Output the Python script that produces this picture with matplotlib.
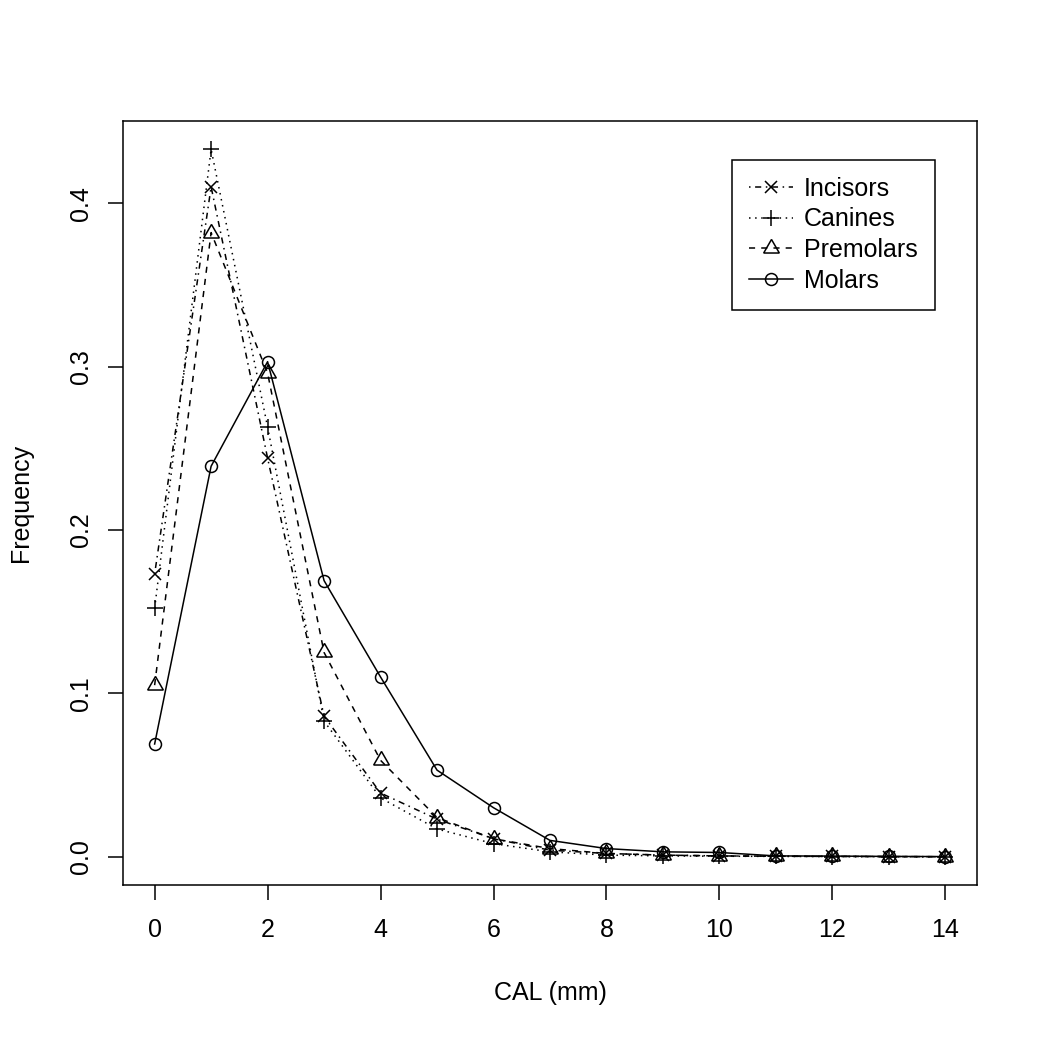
import matplotlib
matplotlib.use("Agg")
import matplotlib.pyplot as plt
import numpy as np

# CAL frequency by tooth type
cal_mm = list(range(15))
incisors = [0.173, 0.410, 0.244, 0.086, 0.039, 0.023, 0.011, 0.004, 0.002, 0.001, 0.0005, 0.0003, 0.0002, 0.0001, 0.0]
canines = [0.152, 0.433, 0.263, 0.083, 0.036, 0.017, 0.008, 0.003, 0.001, 0.0005, 0.0003, 0.0002, 0.0001, 0.0, 0.0]
premolars = [0.105, 0.382, 0.296, 0.125, 0.059, 0.024, 0.011, 0.005, 0.002, 0.001, 0.0005, 0.0003, 0.0002, 0.0001, 0.0]
molars = [0.069, 0.239, 0.303, 0.169, 0.110, 0.053, 0.030, 0.010, 0.005, 0.003, 0.0026, 0.0005, 0.0004, 0.0002, 0.0001]

x_ticks = [0, 2, 4, 6, 8, 10, 12, 14]
y_ticks = [0.0, 0.1, 0.2, 0.3, 0.4]
y_tick_labels = ["0.0", "0.1", "0.2", "0.3", "0.4"]

plt.rcParams['font.family'] = ['Liberation Sans', 'DejaVu Sans']

fig = plt.figure(figsize=(10.42, 10.38), dpi=100)
ax = fig.add_axes([123/1042, 1 - 885/1038, (977 - 123)/1042, (885 - 121)/1038])

lw = 1.1
#series: (values, label, marker, markersize, dash pattern)
series = [
    (incisors, 'Incisors', 'x', 8.9, (0, (1, 3, 4, 3))),
    (canines, 'Canines', '+', 12.2, (0, (1, 3))),
    (premolars, 'Premolars', (3, 0, 0), 13.0, (0, (4, 4))),
    (molars, 'Molars', 'o', 8.6, '-'),
]
for vals, name, mk, ms, ls in series:
    ax.plot(cal_mm, vals, color='black', linestyle=ls, linewidth=lw,
            marker=mk, markersize=ms, markerfacecolor='none',
            markeredgecolor='black', markeredgewidth=lw, label=name)

ax.set_xlim(-0.56, 14.56)
ax.set_ylim(-0.0173, 0.4503)
ax.set_xticks(x_ticks)
ax.set_yticks(y_ticks)
ax.set_yticklabels(y_tick_labels)
ax.tick_params(axis='both', direction='out', length=10.8, width=lw, labelsize=18, pad=13)
ax.tick_params(axis='y', pad=11)
for lab in ax.get_yticklabels():
    lab.set_rotation(90)
    lab.set_va('center')
for sp in ax.spines.values():
    sp.set_linewidth(lw)

ax.set_xlabel('CAL (mm)', fontsize=18)
ax.set_ylabel('Frequency', fontsize=18)
ax.xaxis.set_label_coords(0.5, (885 - 993) / 764)
ax.xaxis.label.set_va('center')
ax.yaxis.set_label_coords((21 - 123) / 854, 0.5)
ax.yaxis.label.set_va('center')

leg = ax.legend(loc='upper right', bbox_to_anchor=((935 - 123) / 854, (885 - 160) / 764),
                fontsize=18, frameon=True, fancybox=False, edgecolor='black', framealpha=1,
                handlelength=1.75, handletextpad=0.45, borderpad=0.68, labelspacing=0.26,
                numpoints=1, borderaxespad=0)
leg.get_frame().set_linewidth(lw)

fig.savefig('out.png', dpi=100)
